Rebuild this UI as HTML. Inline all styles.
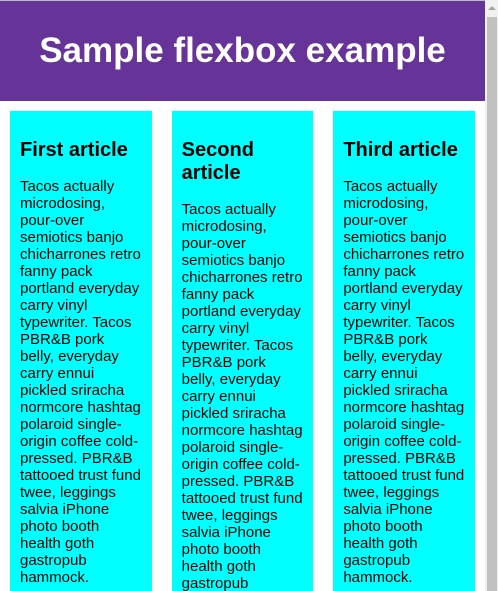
<!DOCTYPE html>
<html><head><meta charset="utf-8"><style>
html,body{margin:0;padding:0;width:498px;height:591px;overflow:hidden;background:#fff;font-family:"Liberation Sans",sans-serif;}
#top{position:absolute;left:0;top:0;width:485px;height:1px;background:#bbb;}
header{position:absolute;left:0;top:1px;width:485px;height:100px;background:#663399;}
h1{margin:0;text-align:center;color:#fff;line-height:100px;font-size:35px;font-weight:bold;}
section{position:absolute;left:0;top:101px;width:485px;height:490px;display:flex;overflow:hidden;}
article{flex:1;margin:10px 10px 0 10px;padding:0 10px;background:#00ffff;height:480px;overflow:hidden;}
h2{font-size:20px;line-height:23px;margin:0 0 16px 0;padding-top:28px;}
p{font-size:15px;line-height:17px;margin:0;}
#sb{position:absolute;left:485px;top:0;width:13px;height:591px;background:#f1f1f1;}
#thumb{position:absolute;left:2px;top:17px;width:10px;height:574px;background:#c1c1c1;}
#arrow{position:absolute;left:3px;top:6px;width:0;height:0;border-left:4px solid transparent;border-right:4px solid transparent;border-bottom:4px solid #a3a3a3;}
</style></head><body>
<div id="top"></div>
<header><h1>Sample flexbox example</h1></header>
<section>
<article><h2>First article</h2><p>Tacos actually microdosing, pour-over semiotics banjo chicharrones retro fanny pack portland everyday carry vinyl typewriter. Tacos PBR&amp;B pork belly, everyday carry ennui pickled sriracha normcore hashtag polaroid single-origin coffee cold-pressed. PBR&amp;B tattooed trust fund twee, leggings salvia iPhone photo booth health goth gastropub hammock.</p></article>
<article><h2>Second article</h2><p>Tacos actually microdosing, pour-over semiotics banjo chicharrones retro fanny pack portland everyday carry vinyl typewriter. Tacos PBR&amp;B pork belly, everyday carry ennui pickled sriracha normcore hashtag polaroid single-origin coffee cold-pressed. PBR&amp;B tattooed trust fund twee, leggings salvia iPhone photo booth health goth gastropub hammock.</p></article>
<article><h2>Third article</h2><p>Tacos actually microdosing, pour-over semiotics banjo chicharrones retro fanny pack portland everyday carry vinyl typewriter. Tacos PBR&amp;B pork belly, everyday carry ennui pickled sriracha normcore hashtag polaroid single-origin coffee cold-pressed. PBR&amp;B tattooed trust fund twee, leggings salvia iPhone photo booth health goth gastropub hammock.</p></article>
</section>
<div id="sb"><div id="arrow"></div><div id="thumb"></div></div>
</body></html>
